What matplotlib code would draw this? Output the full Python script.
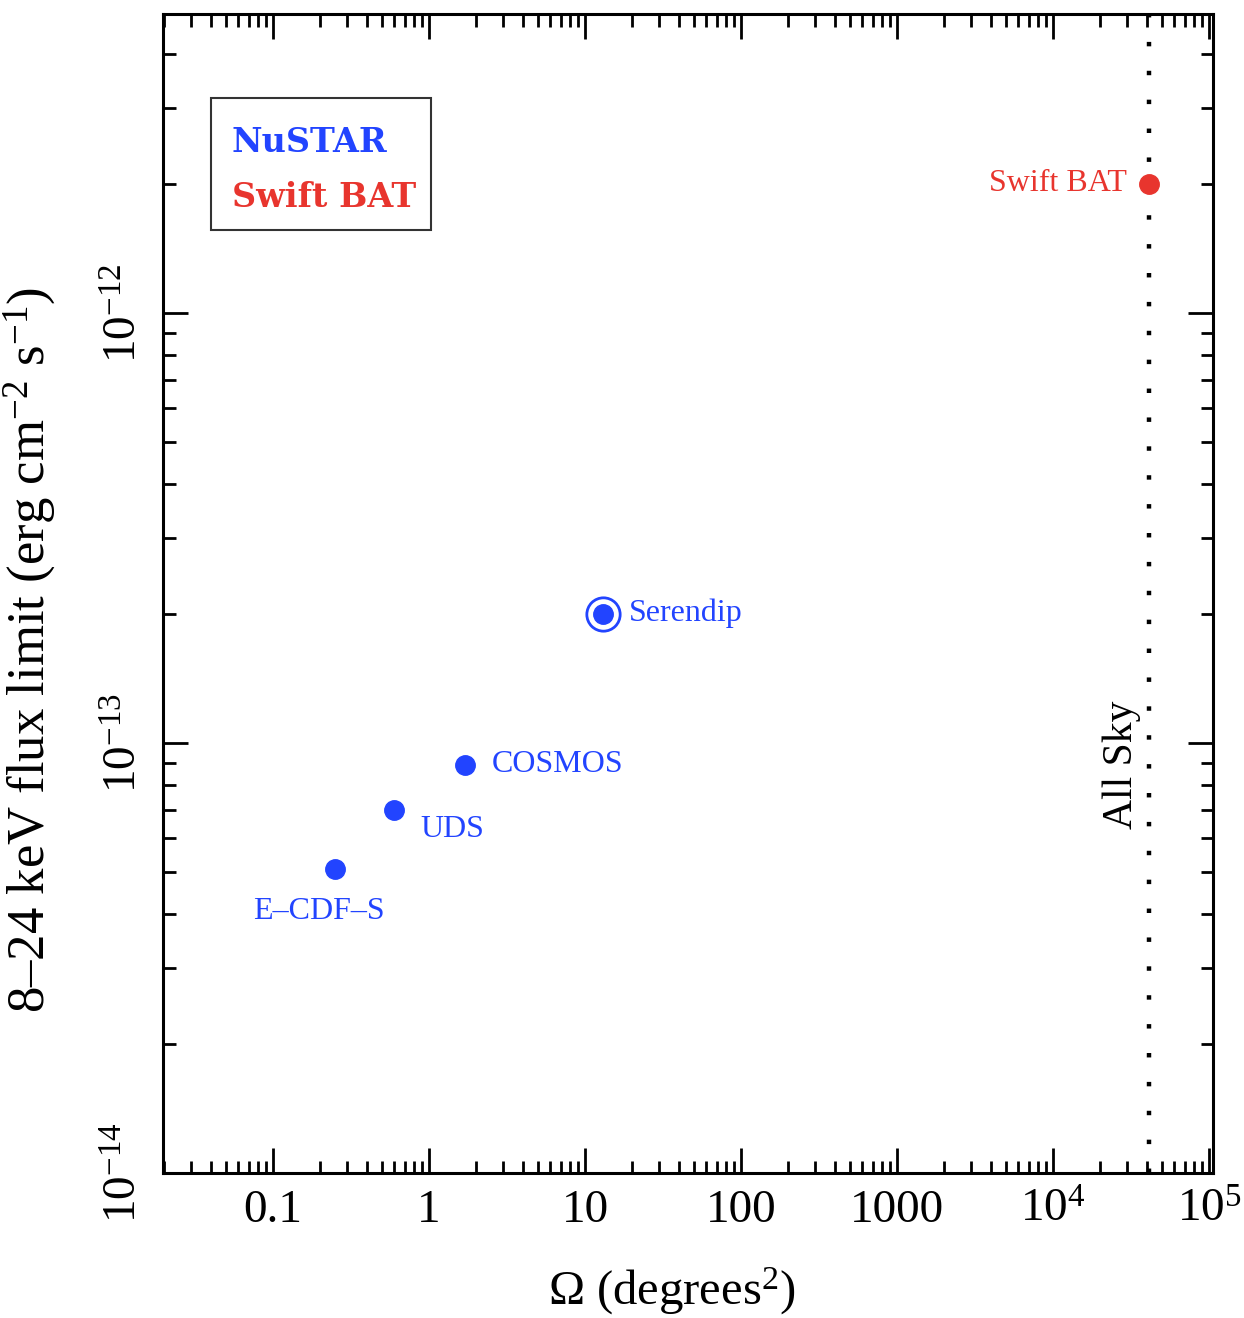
import numpy as np
import matplotlib
matplotlib.use("Agg")
import matplotlib.pyplot as plt
from matplotlib.patches import Rectangle
from matplotlib.ticker import LogLocator, NullFormatter

plt.rcParams['font.family'] = ['Liberation Serif', 'DejaVu Serif']
plt.rcParams['mathtext.fontset'] = 'custom'
plt.rcParams['mathtext.rm'] = 'Liberation Serif'
plt.rcParams['mathtext.it'] = 'Liberation Serif:italic'
plt.rcParams['mathtext.bf'] = 'Liberation Serif:bold'

# NuSTAR survey fields: area (deg^2) and 8-24 keV flux limit
nustar_names = ["E\u2013CDF\u2013S", "UDS", "COSMOS", "Serendip"]
nustar_area = [0.25, 0.6, 1.7, 13.0]
nustar_flux = [5.1e-14, 7.0e-14, 8.9e-14, 2.0e-13]

# Swift BAT all-sky survey
bat_area = [41253.0]
bat_flux = [2.0e-12]
all_sky = 41253.0

xticks = [0.1, 1, 10, 100, 1000, 1e4, 1e5]
xticklabels = ["0.1", "1", "10", "100", "1000", "10$^4$", "10$^5$"]
yticks = [1e-14, 1e-13, 1e-12]
yticklabels = ["10$^{\u221214}$", "10$^{\u221213}$", "10$^{\u221212}$"]

blue = "#2244ff"
red = "#e8352e"

fig = plt.figure(figsize=(12.44, 13.18), dpi=100)
ax = fig.add_axes([0.131, 0.110, 0.844, 0.8794])
ax.set_xscale("log")
ax.set_yscale("log")
ax.set_xlim(0.0197, 1.06e5)
ax.set_ylim(1e-14, 4.96e-12)

# all sky line
ax.axvline(all_sky, color="black", lw=3.2, linestyle=(0, (1, 5.5)), zorder=1)
ax.text(2.75e4, 8.9e-14, "All Sky", rotation=90, ha="center", va="center", fontsize=30)

# points
ax.plot(nustar_area, nustar_flux, "o", color=blue, ms=14, mec=blue, zorder=3)
ax.plot(nustar_area[-1:], nustar_flux[-1:], "o", mfc="none", mec=blue, ms=24, mew=2, zorder=3)
ax.plot(bat_area, bat_flux, "o", color=red, ms=14, zorder=3)

offsets = [(-12, -31), (19, -14), (19, 0), (19, 0)]
aligns = ["center", "left", "left", "left"]
for name, xa, yf, off, ha in zip(nustar_names, nustar_area, nustar_flux, offsets, aligns):
    ax.annotate(name, (xa, yf), xytext=off, textcoords="offset points",
                ha=ha, va="center", color=blue, fontsize=23)
ax.annotate("Swift BAT", (bat_area[0], bat_flux[0]), xytext=(-16, 0),
            textcoords="offset points", ha="right", va="center", color=red, fontsize=23)

# legend box
ax.add_patch(Rectangle((0.0457, 0.8136), 0.2095, 0.1139, transform=ax.transAxes,
                       fill=False, ec="#333333", lw=1.5, zorder=4))
ax.text(0.0657, 0.881, "NuSTAR", transform=ax.transAxes, color=blue, fontsize=24,
        family="DejaVu Serif", weight="bold", va="baseline")
ax.text(0.0657, 0.8335, "Swift BAT", transform=ax.transAxes, color=red, fontsize=24,
        family="DejaVu Serif", weight="bold", va="baseline")

# ticks
ax.set_xticks(xticks)
ax.set_xticklabels(xticklabels)
ax.xaxis.set_minor_locator(LogLocator(base=10, subs=np.arange(2, 10), numticks=20))
ax.xaxis.set_minor_formatter(NullFormatter())
ax.set_yticks(yticks)
ax.set_yticklabels(yticklabels, rotation=90, va="center")
ax.yaxis.set_minor_locator(LogLocator(base=10, subs=np.arange(2, 10), numticks=20))
ax.yaxis.set_minor_formatter(NullFormatter())
ax.tick_params(which="both", direction="in", top=True, right=True, width=2)
ax.tick_params(which="major", length=18)
ax.tick_params(which="minor", length=9)
ax.tick_params(axis="x", which="major", labelsize=34, pad=12)
ax.tick_params(axis="y", which="major", labelsize=34, pad=12)
for s in ax.spines.values():
    s.set_linewidth(2.2)

ax.set_xlabel("\u03a9 (degrees$^2$)", fontsize=35)
ax.xaxis.set_label_coords(0.485, -0.080)
ax.set_ylabel("8\u201324 keV flux limit (erg cm$^{\u22122}$ s$^{\u22121}$)", fontsize=38)
ax.yaxis.set_label_coords(-0.100, 0.451)

fig.savefig("out.png", dpi=100)
